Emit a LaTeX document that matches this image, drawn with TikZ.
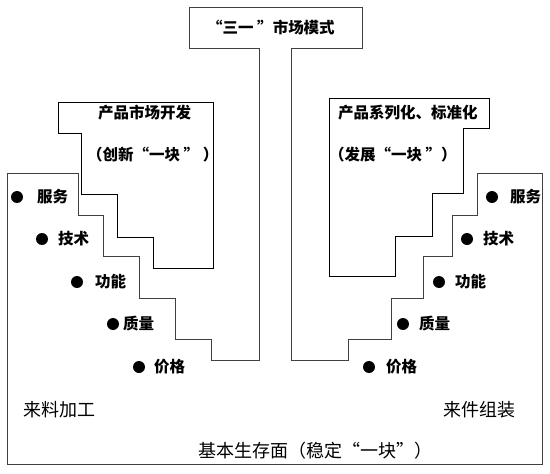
\documentclass[tikz,border=0pt]{standalone}
\usepackage{fontspec}
\usepackage{tikz}
\newfontfamily\cjk{Noto Sans CJK SC}

\tikzset{
  frame/.style={draw=black!75, line width=1pt},
  inner box/.style={draw=black, line width=0.8pt},
  lbl/.style={font=\cjk\bfseries\fontsize{15.5}{17}\selectfont, inner sep=0pt, anchor=west},
  big lbl/.style={font=\cjk\fontsize{18}{20}\selectfont, inner sep=0pt, anchor=west},
  dot/.style={circle, fill=black, inner sep=0pt, minimum size=12pt}
}

\begin{document}
\begin{tikzpicture}[x=1pt,y=-1pt]
    \useasboundingbox (0,0) rectangle (550,474);
    % Outer frame: top box, two stems, stairs and base
    \draw[frame] (189,7) -- (362,7) -- (362,48) -- (291,48) -- (291,360)
        -- (348,360) -- (348,339) -- (391,339) -- (391,298) -- (423,298)
        -- (423,256) -- (452,256) -- (452,215) -- (477,215) -- (477,173)
        -- (542,173) -- (542,464) -- (7,464) -- (7,173) -- (78,173)
        -- (78,215) -- (103,215) -- (103,256) -- (139,256) -- (139,298)
        -- (175,298) -- (175,339) -- (211,339) -- (211,360) -- (259,360)
        -- (259,48) -- (189,48) -- cycle;
    % Left stepped box
    \draw[inner box] (58,102) -- (213,102) -- (213,268) -- (153,268)
        -- (153,237) -- (117,237) -- (117,194) -- (81,194) -- (81,133)
        -- (58,133) -- cycle;
    % Right stepped box
    \draw[inner box] (329,98) -- (489,98) -- (489,128) -- (463,128)
        -- (463,193) -- (432,193) -- (432,236) -- (395,236) -- (395,276)
        -- (329,276) -- cycle;
    % Titles
    \node[lbl] (title) at (207,28) {“三一 ”市场模式};
    \node[lbl] (devtop) at (98,113) {产品市场开发};
    \node[lbl] (devsub) at (87,155) {（创新“一块 ” ）};
    \node[lbl] (stdtop) at (338,113) {产品系列化、标准化};
    \node[lbl] (stdsub) at (329,155) {（发展“一块 ”）};
    % Bullet lists
    \foreach \i/\bx/\tx/\y/\txt in {1/17/37/197/服务, 2/42/58/239/技术,
        3/77/95/282/功能, 4/113/123/324/质量, 5/139/154/367/价格} {
        \node[dot] (ldot\i) at (\bx,\y) {};
        \node[lbl] (ltxt\i) at (\tx,\y) {\txt};
    }
    \foreach \i/\bx/\tx/\y/\txt in {1/492/510/197/服务, 2/467/483/239/技术,
        3/439/455/282/功能, 4/403/419/324/质量, 5/369/386/367/价格} {
        \node[dot] (rdot\i) at (\bx,\y) {};
        \node[lbl] (rtxt\i) at (\tx,\y) {\txt};
    }
    % Bottom labels
    \node[big lbl] (proc) at (23,410) {来料加工};
    \node[big lbl] (assy) at (443,410) {来件组装};
    \node[big lbl] (base) at (198,451) {基本生存面（稳定“一块”）};
\end{tikzpicture}
\end{document}
